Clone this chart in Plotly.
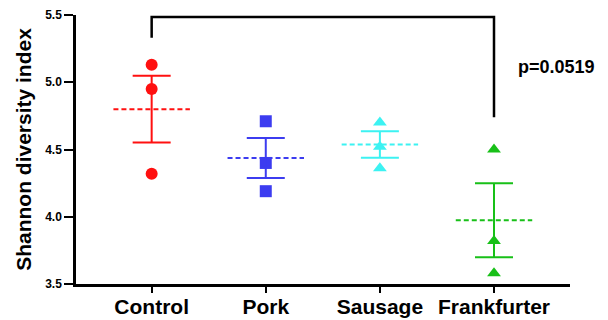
import plotly.graph_objects as go

categories = ["Control", "Pork", "Sausage", "Frankfurter"]
colors = ["#FF1010", "#3C3CF0", "#3CF2F2", "#18C018"]
symbols = ["circle", "square", "triangle-up", "triangle-up"]

control_vals = [5.13, 4.95, 4.32]
pork_vals = [4.71, 4.40, 4.19]
sausage_vals = [4.70, 4.52, 4.36]
frank_vals = [4.50, 3.82, 3.58]
group_vals = [control_vals, pork_vals, sausage_vals, frank_vals]

means = [4.80, 4.437, 4.537, 3.974]
sems = [0.248, 0.148, 0.098, 0.275]

y_ticks = [3.5, 4.0, 4.5, 5.0, 5.5]

bracket_x = [0, 0, 3, 3]
bracket_y = [5.33, 5.485, 5.485, 4.74]
p_label = "p=0.0519"

font_family = "Liberation Sans, Arial, sans-serif"

fig = go.Figure()

for i, (cat, vals) in enumerate(zip(categories, group_vals)):
    fig.add_trace(go.Scatter(
        x=[i] * len(vals), y=vals, mode="markers",
        marker=dict(symbol=symbols[i], size=12, color=colors[i], line=dict(width=0)),
        showlegend=False, cliponaxis=False, hoverinfo="skip"))

for i, cat in enumerate(categories):
    fig.add_trace(go.Scatter(
        x=[i - 0.335, i + 0.335], y=[means[i], means[i]], mode="lines",
        line=dict(color=colors[i], width=2, dash="5px,3px"),
        showlegend=False, hoverinfo="skip"))
    fig.add_trace(go.Scatter(
        x=[i], y=[means[i]], mode="markers",
        marker=dict(size=0.1, color=colors[i], opacity=0),
        error_y=dict(type="data", array=[sems[i]], symmetric=True,
                     color=colors[i], thickness=2, width=19),
        showlegend=False, hoverinfo="skip"))

fig.add_trace(go.Scatter(
    x=bracket_x, y=bracket_y, mode="lines",
    line=dict(color="black", width=2.5),
    showlegend=False, cliponaxis=False, hoverinfo="skip"))

fig.add_annotation(
    x=3.19, y=5.115, xref="x", yref="y", text=p_label, showarrow=False,
    xanchor="left", yanchor="middle",
    font=dict(family=font_family, size=18, color="black", weight="bold"))

fig.update_layout(
    width=600, height=312,
    margin=dict(l=68, r=38, t=7, b=36, autoexpand=False),
    paper_bgcolor="white", plot_bgcolor="white",
    font=dict(family=font_family, color="black", weight="bold"),
    xaxis=dict(
        range=[-0.663, 3.666], tickmode="array", tickvals=list(range(len(categories))),
        ticktext=categories, showgrid=False, zeroline=False, automargin=False,
        showline=True, linecolor="black", linewidth=2.5,
        ticks="outside", ticklen=6, tickwidth=2, tickcolor="black",
        ticklabelstandoff=-4,
        tickfont=dict(family=font_family, size=21, color="black", weight="bold")),
    yaxis=dict(
        range=[3.5, 5.5], tickmode="array", tickvals=y_ticks, automargin=False,
        ticktext=[f"{v:.1f}" for v in y_ticks], showgrid=False, zeroline=False,
        showline=True, linecolor="black", linewidth=2.5,
        ticks="outside", ticklen=9, tickwidth=2, tickcolor="black",
        tickfont=dict(family=font_family, size=12, color="black", weight="bold"),
        title=dict(text="Shannon diversity index", standoff=8,
                   font=dict(family=font_family, size=21, color="black", weight="bold"))),
)

fig.write_html("out.html")
